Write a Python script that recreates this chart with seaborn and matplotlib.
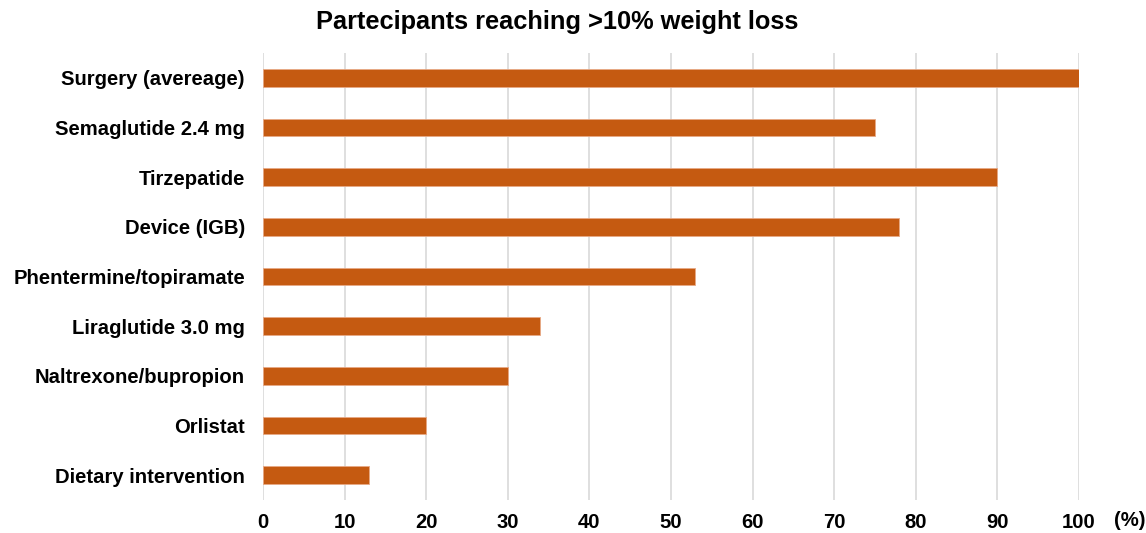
import matplotlib
matplotlib.use("Agg")
import matplotlib.pyplot as plt
import pandas as pd
import seaborn as sns

# data
treatments = ["Surgery (avereage)", "Semaglutide 2.4 mg", "Tirzepatide",
              "Device (IGB)", "Phentermine/topiramate", "Liraglutide 3.0 mg",
              "Naltrexone/bupropion", "Orlistat", "Dietary intervention"]
pct_reaching = [100, 75, 90, 78, 53, 34, 30, 20, 13]
x_ticks = [0, 10, 20, 30, 40, 50, 60, 70, 80, 90, 100]

df = pd.DataFrame({"Treatment": treatments, "Percent": pct_reaching})

sns.set_style("white")
plt.rcParams['font.family'] = ['Liberation Sans', 'DejaVu Sans']
plt.rcParams['text.color'] = 'black'
plt.rcParams['xtick.color'] = 'black'
plt.rcParams['ytick.color'] = 'black'

fig = plt.figure(figsize=(11.46, 5.33), dpi=100)
ax = fig.add_axes([0.2295, 0.0619, 0.712, 0.8387])

sns.barplot(data=df, x="Percent", y="Treatment", orient="h", ax=ax,
            color="#C55A11", saturation=1, width=0.36,
            edgecolor="#E8A985", linewidth=0.6, zorder=3)

ax.set_xlim(0, 100)
ax.set_ylim(8.5, -0.5)
ax.set_xticks(x_ticks)
ax.grid(axis="x", color="#D9D9D9", linewidth=1.2, zorder=0)
ax.set_axisbelow(True)
for s in ax.spines.values():
    s.set_visible(False)
ax.tick_params(axis="both", length=0)
ax.tick_params(axis="x", pad=9)
ax.tick_params(axis="y", pad=13)
for lbl in ax.get_xticklabels() + ax.get_yticklabels():
    lbl.set_fontsize(14.6)
    lbl.set_fontweight("bold")
ax.set_xlabel("")
ax.set_ylabel("")

fig.text(1130 / 1146, 1 - 521 / 533, "(%)", ha="center", va="center",
         fontsize=14.6, fontweight="bold")
fig.text(557 / 1146, 1 - 22 / 533, "Partecipants reaching >10% weight loss",
         ha="center", va="center", fontsize=18.3, fontweight="bold")

fig.savefig("out.png", dpi=100)
